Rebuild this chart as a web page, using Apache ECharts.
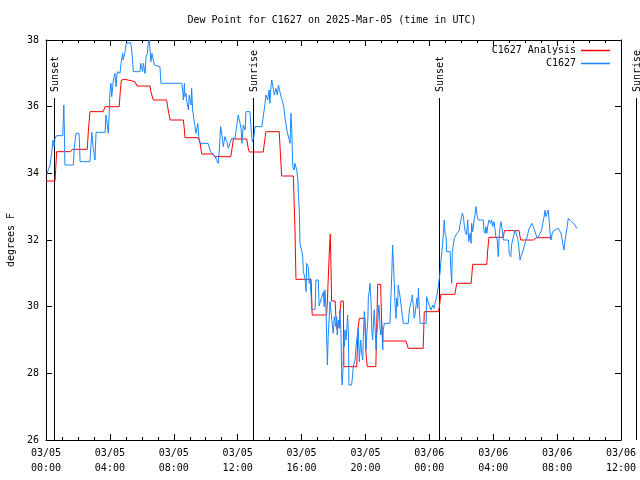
<!DOCTYPE html>
<html><head><meta charset="utf-8">
<script src="https://cdn.jsdelivr.net/npm/echarts@6/dist/echarts.min.js"></script>
<style>html,body{margin:0;padding:0;background:#fff}#c{width:640px;height:480px}</style>
</head><body><div id="c"></div>
<script>
const FONT = 'DejaVu Sans Mono';
const titleText = 'Dew Point for C1627 on 2025-Mar-05 (time in UTC)';
const yAxisName = 'degrees F';
const seriesNames = ['C1627 Analysis', 'C1627'];
// x tick labels, every 240 minutes from 2025-03-05 00:00 UTC
const xTickLabels = ['03/05\n00:00','03/05\n04:00','03/05\n08:00','03/05\n12:00','03/05\n16:00','03/05\n20:00','03/06\n00:00','03/06\n04:00','03/06\n08:00','03/06\n12:00'];
// sunset / sunrise events (minutes since 03/05 00:00)
const eventNames = ['Sunset','Sunrise','Sunset','Sunrise'];
const eventT = [30, 778, 1476, 2216];
// Analysis (minutes, degrees F)
const analysisT = [0,34,40,93,99,155,159,165,215,222,275,279,283,297,334,342,391,394,403,453,459,466,516,520,522,572,579,585,628,635,694,698,704,754,760,764,816,826,876,883,885,929,935,939,996,1000,1054,1057,1064,1068,1071,1073,1086,1089,1094,1098,1102,1106,1108,1117,1119,1167,1173,1177,1198,1202,1207,1239,1243,1246,1257,1261,1265,1352,1361,1417,1421,1474,1478,1483,1536,1543,1597,1603,1656,1659,1664,1718,1722,1777,1783,1831,1843,1900];
const analysisV = [33.77,33.77,34.65,34.65,34.72,34.72,35.25,35.85,35.85,36.0,36.0,36.45,36.8,36.82,36.75,36.62,36.62,36.45,36.2,36.2,35.9,35.6,35.6,35.3,35.07,35.07,34.9,34.58,34.58,34.5,34.5,34.7,35.03,35.03,34.73,34.64,34.64,35.25,35.25,34.25,33.92,33.92,32.42,30.82,30.82,29.75,29.75,30.17,31.6,32.18,31.0,30.17,30.17,29.7,29.3,29.3,29.6,29.6,30.17,30.17,28.2,28.2,29.4,29.65,29.65,28.6,28.2,28.2,29.6,30.67,30.67,29.5,28.97,28.97,28.75,28.75,29.85,29.85,30.0,30.37,30.37,30.7,30.7,31.27,31.27,31.67,32.08,32.08,32.28,32.28,32.0,32.0,32.07,32.07];
// Observations [minutes, degrees F]
const obsReadings = [[3,33.98],[15,34.25],[21,34.6],[25,34.9],[27,35.0],[30,34.8],[34,35.05],[40,35.13],[63,35.13],[67,36.05],[69,35.3],[71,34.25],[103,34.25],[106,34.75],[113,35.2],[124,35.2],[126,34.9],[128,34.35],[165,34.35],[172,35.23],[177,34.8],[184,34.4],[188,35.23],[222,35.23],[225,35.75],[228,35.6],[234,35.2],[238,35.9],[240,36.4],[244,36.7],[247,36.3],[253,36.8],[259,37.0],[263,36.6],[268,37.05],[278,37.0],[282,37.3],[288,37.6],[290,37.4],[294,37.35],[297,37.65],[301,37.9],[318,37.92],[322,37.7],[326,37.3],[328,37.05],[353,37.05],[356,37.3],[360,37.15],[363,37.05],[366,37.3],[372,37.0],[376,37.5],[381,37.6],[384,37.9],[388,38.0],[391,37.7],[394,37.35],[398,37.6],[403,37.4],[407,37.25],[409,37.2],[428,37.2],[432,36.7],[510,36.7],[514,36.45],[516,36.2],[520,36.7],[522,36.3],[526,36.4],[529,36.15],[535,35.9],[538,36.35],[545,36.05],[547,36.55],[551,35.9],[556,35.6],[560,35.4],[563,35.2],[566,35.3],[570,35.5],[574,35.1],[579,34.9],[609,34.9],[616,34.7],[622,34.6],[635,34.5],[641,34.4],[647,34.3],[651,34.7],[656,35.4],[660,35.2],[666,34.8],[672,35.1],[679,34.95],[685,34.75],[691,34.9],[698,35.05],[710,35.05],[716,35.1],[722,35.75],[729,35.5],[733,35.35],[736,34.9],[741,35.45],[748,35.3],[751,35.85],[766,35.85],[770,35.4],[775,34.95],[781,35.1],[785,35.4],[811,35.4],[816,35.7],[823,36.1],[826,36.35],[833,36.2],[838,36.5],[841,36.1],[845,36.6],[848,36.8],[854,36.8],[858,36.35],[864,36.55],[869,36.35],[873,36.65],[879,36.7],[883,36.3],[889,36.15],[894,35.95],[898,35.65],[902,35.6],[906,35.25],[910,35.3],[914,35.0],[917,34.9],[920,35.8],[923,35.35],[927,34.2],[932,34.1],[935,34.3],[939,34.25],[942,34.1],[946,33.8],[948,33.4],[952,32.8],[954,31.9],[961,31.9],[964,31.55],[967,31.05],[973,30.85],[977,30.45],[979,31.3],[985,31.2],[989,30.7],[992,30.85],[996,30.3],[998,29.92],[1011,29.92],[1014,30.8],[1023,30.8],[1026,30.02],[1042,30.45],[1045,30.0],[1048,30.5],[1052,29.9],[1054,29.15],[1057,28.25],[1060,29.1],[1064,29.7],[1067,30.15],[1071,30.1],[1075,29.5],[1079,29.2],[1083,29.7],[1086,29.55],[1089,29.4],[1092,29.7],[1094,29.15],[1098,29.6],[1102,29.35],[1104,29.9],[1108,29.2],[1111,27.8],[1113,27.65],[1116,28.2],[1117,28.9],[1121,28.8],[1123,29.3],[1127,29.0],[1130,29.3],[1133,29.75],[1136,29.2],[1138,27.65],[1148,27.65],[1152,27.95],[1154,28.2],[1161,28.4],[1165,28.85],[1169,28.9],[1173,29.35],[1177,28.35],[1182,29.0],[1186,28.6],[1190,28.4],[1192,29.1],[1196,29.85],[1199,29.25],[1202,28.7],[1205,29.15],[1209,29.6],[1211,30.3],[1215,30.5],[1217,30.7],[1221,30.15],[1224,29.3],[1227,29.0],[1230,29.5],[1233,29.9],[1236,29.4],[1240,28.7],[1242,29.15],[1246,29.5],[1250,30.05],[1252,29.9],[1255,29.35],[1258,29.15],[1261,29.55],[1265,28.7],[1267,29.3],[1271,29.5],[1292,29.5],[1299,31.0],[1302,31.85],[1305,31.3],[1307,31.0],[1311,30.1],[1315,29.65],[1317,30.25],[1321,30.0],[1323,30.65],[1327,30.65],[1330,30.3],[1336,29.9],[1342,29.5],[1361,29.5],[1365,29.9],[1370,30.1],[1374,30.2],[1376,30.35],[1380,30.0],[1383,29.65],[1386,29.75],[1393,30.25],[1396,29.95],[1399,30.55],[1402,30.0],[1405,29.5],[1428,29.5],[1430,30.3],[1434,30.35],[1439,30.05],[1446,29.9],[1453,30.05],[1458,29.95],[1461,30.1],[1468,30.3],[1474,30.65],[1480,31.0],[1484,31.4],[1489,31.8],[1493,32.2],[1496,32.6],[1499,32.2],[1503,32.1],[1505,31.65],[1518,31.65],[1521,31.1],[1524,30.7],[1526,31.6],[1530,31.85],[1534,32.05],[1540,32.15],[1545,32.2],[1553,32.3],[1555,32.45],[1559,32.4],[1564,32.8],[1568,32.7],[1571,32.45],[1575,32.25],[1580,32.15],[1584,32.6],[1588,31.95],[1593,32.2],[1597,31.9],[1599,32.5],[1603,32.25],[1608,32.6],[1612,32.8],[1615,33.0],[1620,32.7],[1624,32.6],[1643,32.6],[1645,32.3],[1649,32.2],[1653,32.4],[1656,32.2],[1659,32.4],[1664,32.6],[1671,32.5],[1674,32.6],[1678,32.4],[1683,32.55],[1687,32.3],[1690,32.1],[1695,32.0],[1699,31.5],[1703,32.2],[1706,32.4],[1709,32.55],[1714,32.3],[1718,32.0],[1737,32.0],[1740,31.6],[1746,31.5],[1749,31.85],[1753,32.0],[1762,32.3],[1768,32.3],[1772,32.05],[1776,31.8],[1781,31.4],[1784,31.5],[1791,31.65],[1796,31.8],[1803,32.0],[1808,32.1],[1813,32.3],[1818,32.35],[1825,32.5],[1828,32.55],[1831,32.4],[1837,32.35],[1841,32.15],[1846,32.05],[1851,32.1],[1856,32.2],[1862,32.3],[1866,32.5],[1871,32.7],[1875,32.9],[1878,32.7],[1883,32.75],[1887,32.9],[1891,32.5],[1893,32.25],[1897,32.0],[1901,32.0],[1903,32.25],[1908,32.3],[1916,32.32],[1925,32.35],[1931,32.3],[1935,32.2],[1941,31.9],[1946,31.7],[1950,32.0],[1953,32.05],[1958,32.4],[1962,32.65],[1968,32.6],[1975,32.55],[1981,32.5],[1987,32.45],[1994,32.35]];

const RED = '#ff0000';
const BLUE = '#1a86ff';
const X_MIN = 0, X_MAX = 2160, X_STEP = 240;
const Y_MIN = 26, Y_MAX = 38, Y_STEP = 2;

const chart = echarts.init(document.getElementById('c'), null, {renderer: 'canvas', width: 640, height: 480});

function xAxisCfg(pos, labels) {
  return {
    type: 'value', position: pos, min: X_MIN, max: X_MAX, interval: X_STEP,
    axisLine: {show: true, onZero: false, lineStyle: {color: '#000', width: 1}},
    axisTick: {show: true, inside: true, length: 6, lineStyle: {color: '#000', width: 1}},
    minorTick: {show: true, splitNumber: 4, length: 3, lineStyle: {color: '#000', width: 1}},
    splitLine: {show: false}, minorSplitLine: {show: false},
    axisLabel: {
      show: labels, margin: 6, fontSize: 10, lineHeight: 15, color: '#000', fontFamily: FONT,
      showMinLabel: true, showMaxLabel: true, hideOverlap: false,
      formatter: v => xTickLabels[Math.round((v - X_MIN) / X_STEP)] || ''
    }
  };
}
function yAxisCfg(pos, labels) {
  return {
    type: 'value', position: pos, min: Y_MIN, max: Y_MAX, interval: Y_STEP,
    name: labels ? yAxisName : '', nameLocation: 'middle', nameGap: 30, nameRotate: 90,
    nameTextStyle: {fontSize: 10, color: '#000', fontFamily: FONT},
    axisLine: {show: true, onZero: false, lineStyle: {color: '#000', width: 1}},
    axisTick: {show: true, inside: true, length: 6, lineStyle: {color: '#000', width: 1}},
    splitLine: {show: false},
    axisLabel: {show: labels, margin: 7, fontSize: 10, color: '#000', fontFamily: FONT, showMinLabel: true, showMaxLabel: true}
  };
}

chart.setOption({
  animation: false,
  backgroundColor: '#fff',
  textStyle: {fontFamily: FONT},
  title: {
    text: titleText, left: 327, top: 10, textAlign: 'center',
    textStyle: {fontSize: 10, fontWeight: 'normal', color: '#000', fontFamily: FONT}
  },
  legend: {
    orient: 'vertical', right: 30, top: 44, align: 'right', padding: 0,
    itemWidth: 29, itemHeight: 1.5, itemGap: 0, icon: 'rect',
    textStyle: {fontSize: 10, color: '#000', fontFamily: FONT, lineHeight: 13},
    data: seriesNames.map(n => ({name: n, icon: 'rect'}))
  },
  grid: {left: 46, right: 19, top: 40, bottom: 40, containLabel: false, outerBoundsMode: 'none'},
  xAxis: [xAxisCfg('bottom', true), xAxisCfg('top', false)],
  yAxis: [yAxisCfg('left', true), yAxisCfg('right', false)],
  series: [
    {
      name: seriesNames[0], type: 'line', xAxisIndex: 0, yAxisIndex: 0,
      data: analysisT.map((t, i) => [t, analysisV[i]]),
      symbol: 'none', showSymbol: false, sampling: null,
      lineStyle: {color: RED, width: 1}, itemStyle: {color: RED}
    },
    {
      name: seriesNames[1], type: 'line', xAxisIndex: 0, yAxisIndex: 0,
      data: obsReadings,
      symbol: 'none', showSymbol: false,
      lineStyle: {color: BLUE, width: 1}, itemStyle: {color: BLUE}
    }
  ]
});

// Sunrise / sunset markers drawn through the axis scale
const plotTop = chart.convertToPixel({yAxisIndex: 0}, Y_MAX);
const plotBottom = chart.convertToPixel({yAxisIndex: 0}, Y_MIN);
const lineTop = plotTop + 58;
const labelBase = plotTop + 52;
const elems = [];
eventT.forEach((t, i) => {
  const px = Math.round(chart.convertToPixel({xAxisIndex: 0}, t)) + 0.5;
  elems.push({type: 'line', silent: true, shape: {x1: px, y1: lineTop, x2: px, y2: plotBottom},
              style: {stroke: '#000', lineWidth: 1}});
  elems.push({type: 'text', silent: true, x: px + 1, y: labelBase, rotation: Math.PI / 2,
              style: {text: eventNames[i], fontSize: 10, fontFamily: FONT, fill: '#000',
                      align: 'left', verticalAlign: 'middle', textAlign: 'left', textVerticalAlign: 'middle'}});
});
chart.setOption({graphic: elems});
</script>
</body></html>
